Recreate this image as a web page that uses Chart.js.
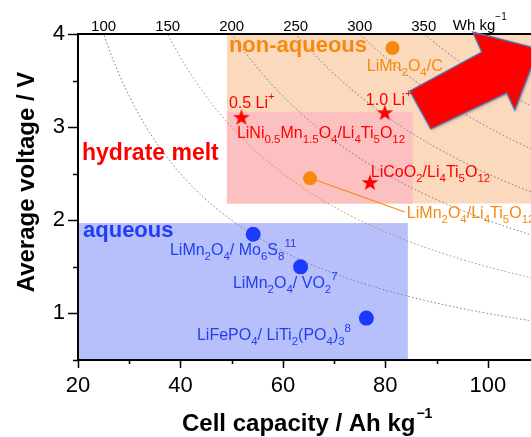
<!DOCTYPE html>
<html><head><meta charset="utf-8">
<script src="https://cdn.jsdelivr.net/npm/chart.js@4/dist/chart.umd.min.js"></script>
<style>
html,body{margin:0;padding:0;overflow:hidden;background:#fff;width:531px;height:437px;}
#wrap{position:absolute;left:0;top:0;width:560px;height:437px;}
</style></head>
<body><div id="wrap"><canvas id="c" width="560" height="437"></canvas></div>
<script>
// ---- data ----
const nonAqueousCap  = [81.4, 65.3];
const nonAqueousVolt = [3.85, 2.45];
const hydrateCap     = [51.9, 79.9, 77.0];
const hydrateVolt    = [3.10, 3.15, 2.40];
const aqueousCap     = [54.2, 63.45, 76.3];
const aqueousVolt    = [1.85, 1.50, 0.95];

const xMajorTicks = [20, 40, 60, 80, 100];
const xMinorTicks = [30, 50, 70, 90, 110];
const yMajorTicks = [1, 2, 3, 4];
const yMinorTicks = [0.5, 1.5, 2.5, 3.5];
const energyLevels = [100, 150, 200, 250, 300, 350, 400];      // Wh/kg iso-lines
const topEnergyLabels = [100, 150, 200, 250, 300, 350];

// regions: [capMin, capMax, voltMin, voltMax]
const regionNonAqueous = [49.07, 112, 2.18, 4.0];
const regionHydrate    = [49.07, 85.37, 2.18, 3.165];
const regionAqueous    = [20, 84.4, 0.5, 1.97];

// big arrow outline (capacity, voltage)
const arrowCap  = [88.88, 84.78, 98.83, 97.07, 109.9, 105.27, 103.71];
const arrowVolt = [2.98, 3.388, 3.807, 4.021, 3.84, 3.184, 3.367];

// leader line for LiMn2O4/Li4Ti5O12
const leaderCap  = [65.3, 83.8];
const leaderVolt = [2.454, 2.089];

const ORANGE = '#f7890f', RED = '#ff0000', BLUE = '#1f3df5';

// text annotations: [text, cap, volt, color, font]
const labels = [
  ['non-aqueous', 49.46, 3.807, ORANGE, 'bold 22px "Liberation Sans", Arial, sans-serif'],
  ['hydrate melt', 20.78, 2.647, RED, 'bold 23px "Liberation Sans", Arial, sans-serif'],
  ['aqueous', 20.98, 1.82, BLUE, 'bold 22px "Liberation Sans", Arial, sans-serif'],
  ['LiMn_2O_4/C', 76.39, 3.603, ORANGE, null],
  ['0.5 Li^+', 49.46, 3.206, RED, null],
  ['1.0 Li^+', 76.2, 3.238, RED, null],
  ['LiNi_{0.5}Mn_{1.5}O_4/Li_4Ti_5O_{12}', 51.02, 2.883, RED, null],
  ['LiCoO_2/Li_4Ti_5O_{12}', 77.17, 2.465, RED, null],
  ['LiMn_2O_4/Li_4Ti_5O_{12}', 84.2, 2.025, ORANGE, null],
  ['LiMn_2O_4/ Mo_6S_8^{11}', 37.95, 1.627, BLUE, null],
  ['LiMn_2O_4/ VO_2^{7}', 50.24, 1.273, BLUE, null],
  ['LiFePO_4/ LiTi_2(PO_4)_3^{8}', 43.22, 0.715, BLUE, null]
];

const FF = '"Liberation Sans", Arial, sans-serif';

function parseRich(s){
  const out=[]; let i=0, cur='';
  while(i<s.length){
    const c=s[i];
    if(c==='_'||c==='^'){
      if(cur){out.push({t:cur,m:0});cur='';}
      let txt;
      if(s[i+1]==='{'){const j=s.indexOf('}',i+2);txt=s.slice(i+2,j);i=j+1;}
      else {txt=s[i+1];i+=2;}
      out.push({t:txt,m:c==='_'?1:2});
    } else {cur+=c;i++;}
  }
  if(cur) out.push({t:cur,m:0});
  return out;
}
function drawRich(ctx, s, x, y, size, color, subSize, subDy, supDy){
  ctx.fillStyle=color; ctx.textAlign='left'; ctx.textBaseline='alphabetic';
  for(const tk of parseRich(s)){
    ctx.font = (tk.m? subSize: size)+'px '+FF;
    const dy = tk.m===1? subDy : tk.m===2? supDy : 0;
    ctx.fillText(tk.t, x, y+dy);
    x += ctx.measureText(tk.t).width;
  }
}

// star marker
function makeStar(R, color){
  const c=document.createElement('canvas'); const s=Math.ceil(R*2+2);
  c.width=s; c.height=s; const g=c.getContext('2d');
  g.beginPath();
  for(let k=0;k<10;k++){
    const r = k%2===0? R : R*0.4;
    const a = -Math.PI/2 + k*Math.PI/5;
    const px = s/2 + r*Math.cos(a), py = s/2 + r*Math.sin(a);
    k===0? g.moveTo(px,py): g.lineTo(px,py);
  }
  g.closePath(); g.fillStyle=color; g.fill();
  return c;
}
const starImg = makeStar(8.8, RED);

const pts = (xs, ys) => xs.map((x,i)=>({x, y: ys[i]}));

const backgroundPlugin = {
  id:'bg',
  beforeDraw(chart){
    const {ctx, chartArea:a, scales:{x, y}} = chart;
    ctx.save();
    ctx.beginPath(); ctx.rect(a.left, a.top, a.right-a.left, a.bottom-a.top); ctx.clip();
    const rect = (r, col)=>{
      const x0=x.getPixelForValue(r[0]), x1=x.getPixelForValue(r[1]);
      const y0=y.getPixelForValue(r[3]), y1=y.getPixelForValue(r[2]);
      ctx.fillStyle=col; ctx.fillRect(x0,y0,x1-x0,y1-y0);
    };
    rect(regionNonAqueous, '#fbd9bd');
    rect(regionHydrate, '#fcc0c1');
    rect(regionAqueous, '#b8c0fb');
    // iso-energy guide curves
    ctx.lineWidth=1; ctx.setLineDash([1.6,2.2]);
    for(const E of energyLevels){
      ctx.strokeStyle = E===150 ? '#c98a55' : '#7d7d7d';
      ctx.beginPath();
      let first=true;
      for(let c=20; c<=111; c+=0.25){
        const v=E/c; if(v>4.3) continue;
        const px=x.getPixelForValue(c), py=y.getPixelForValue(v);
        if(first){ctx.moveTo(px,py); first=false;} else ctx.lineTo(px,py);
      }
      ctx.stroke();
    }
    ctx.restore();
  },
  afterDraw(chart){
    const {ctx, chartArea:a, scales:{x, y, x2}} = chart;
    ctx.save();
    // tick marks
    ctx.strokeStyle='#000'; ctx.lineWidth=1.5;
    const yl = a.left, xb = a.bottom;
    for(const v of yMajorTicks){const p=Math.round(y.getPixelForValue(v))+0.5; ctx.beginPath();ctx.moveTo(yl-10,p);ctx.lineTo(yl,p);ctx.stroke();}
    for(const v of yMinorTicks){const p=Math.round(y.getPixelForValue(v))+0.5; ctx.beginPath();ctx.moveTo(yl-5,p);ctx.lineTo(yl,p);ctx.stroke();}
    for(const v of xMajorTicks){const p=Math.round(x.getPixelForValue(v))+0.5; ctx.beginPath();ctx.moveTo(p,xb);ctx.lineTo(p,xb+8);ctx.stroke();}
    for(const v of xMinorTicks){const p=Math.round(x.getPixelForValue(v))+0.5; ctx.beginPath();ctx.moveTo(p,xb);ctx.lineTo(p,xb+4);ctx.stroke();}

    // leader line
    ctx.strokeStyle=ORANGE; ctx.lineWidth=1.2;
    ctx.beginPath();
    ctx.moveTo(x.getPixelForValue(leaderCap[0]), y.getPixelForValue(leaderVolt[0]));
    ctx.lineTo(x.getPixelForValue(leaderCap[1]), y.getPixelForValue(leaderVolt[1]));
    ctx.stroke();

    // annotations
    for(const [t,c,v,col,font] of labels){
      const px=x.getPixelForValue(c), py=y.getPixelForValue(v);
      if(font){ctx.font=font; ctx.fillStyle=col; ctx.textAlign='left'; ctx.textBaseline='alphabetic'; ctx.fillText(t,px,py);}
      else drawRich(ctx, t, px, py, 16, col, 11.5, 5, -8);
    }

    // top unit label
    drawRich(ctx, 'Wh kg^{\u22121}', x2.getPixelForValue(93.17), a.top-4, 15, '#000', 10, 5, -10);

    // axis titles
    ctx.fillStyle='#000';
    ctx.font='bold 24px '+FF; ctx.textBaseline='alphabetic';
    ctx.save(); ctx.translate(34, 182); ctx.rotate(-Math.PI/2);
    ctx.textAlign='center'; ctx.fillText('Average voltage / V',0,0); ctx.restore();
    ctx.textAlign='left';
    const tx = 182, ty = 431;
    ctx.fillText('Cell capacity / Ah kg', tx, ty);
    const w = ctx.measureText('Cell capacity / Ah kg').width;
    ctx.font='bold 14px '+FF; ctx.fillText('\u22121', tx+w+1, ty-13);

    // big arrow
    ctx.beginPath();
    arrowCap.forEach((c,i)=>{const px=x.getPixelForValue(c), py=y.getPixelForValue(arrowVolt[i]); i?ctx.lineTo(px,py):ctx.moveTo(px,py);});
    ctx.closePath();
    ctx.shadowColor='rgba(60,60,60,0.45)'; ctx.shadowBlur=3; ctx.shadowOffsetX=1; ctx.shadowOffsetY=1;
    ctx.fillStyle=RED; ctx.fill();
    ctx.shadowColor='transparent';
    ctx.strokeStyle='#4a78b5'; ctx.lineWidth=1.3; ctx.stroke();
    ctx.restore();
  }
};

new Chart(document.getElementById('c'), {
  type:'scatter',
  data:{datasets:[
    {label:'non-aqueous', data:pts(nonAqueousCap, nonAqueousVolt), pointStyle:'circle', pointRadius:7, backgroundColor:ORANGE, borderColor:ORANGE, borderWidth:0},
    {label:'hydrate melt', data:pts(hydrateCap, hydrateVolt), pointStyle:starImg, pointRadius:9},
    {label:'aqueous', data:pts(aqueousCap, aqueousVolt), pointStyle:'circle', pointRadius:7.5, backgroundColor:'#1a3bff', borderColor:'#1a3bff', borderWidth:0}
  ]},
  options:{
    responsive:false, animation:false, devicePixelRatio:1,
    layout:{padding:{left:0, right:21, top:0, bottom:0}},
    plugins:{legend:{display:false}, tooltip:{enabled:false}},
    scales:{
      x:{type:'linear', position:'bottom', min:20, max:110,
         afterBuildTicks:s=>{s.ticks=xMajorTicks.map(v=>({value:v}));},
         afterFit:s=>{s.height=77;},
         grid:{display:false, drawTicks:false, tickLength:0},
         border:{display:true, color:'#000', width:2},
         ticks:{padding:13, color:'#000', font:{family:FF, size:22}, maxRotation:0, autoSkip:false}},
      x2:{type:'linear', position:'top', min:20, max:110,
         afterBuildTicks:s=>{s.ticks=topEnergyLabels.map(e=>({value:e/4}));},
         afterFit:s=>{s.height=34;},
         grid:{display:false, drawTicks:false, tickLength:0},
         border:{display:true, color:'#000', width:2},
         ticks:{padding:-2, color:'#000', font:{family:FF, size:15}, maxRotation:0, autoSkip:false,
                callback:v=>String(Math.round(v*4))}},
      y:{type:'linear', position:'left', min:0.5, max:4,
         afterBuildTicks:s=>{s.ticks=yMajorTicks.map(v=>({value:v}));},
         afterFit:s=>{s.width=78;},
         grid:{display:false, drawTicks:false, tickLength:0},
         border:{display:true, color:'#000', width:2},
         ticks:{padding:13, color:'#000', font:{family:FF, size:22}, autoSkip:false}}
    }
  },
  plugins:[backgroundPlugin]
});
</script></body></html>
